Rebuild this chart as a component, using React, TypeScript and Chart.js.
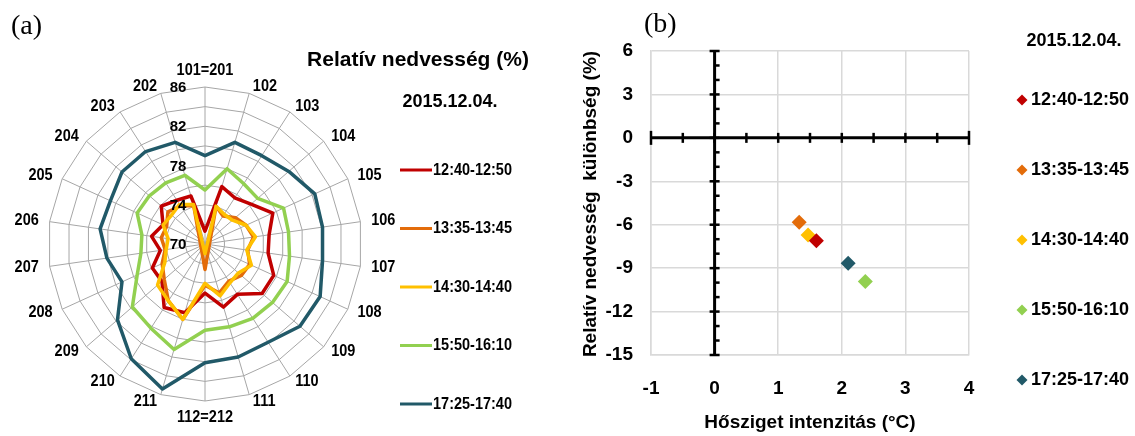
import React, { useEffect, useRef } from 'react';
import { Chart, registerables } from 'chart.js';

Chart.register(...registerables);

// ---------- DATA ----------
const spokeLabels = [
  '101=201', '102', '103', '104', '105', '106', '107', '108', '109', '110', '111',
  '112=212', '211', '210', '209', '208', '207', '206', '205', '204', '203', '202',
];
const seriesNames = ['12:40-12:50', '13:35-13:45', '14:30-14:40', '15:50-16:10', '17:25-17:40'];
const seriesColors = ['#C00000', '#E36C0A', '#FFC000', '#92D050', '#215968'];

const rh1240 = [71.3, 76.1, 75.6, 76.2, 77.6, 76.6, 76.5, 77.7, 77.7, 76.1, 76.7, 75.0, 77.3, 77.7, 75.8, 75.9, 74.6, 75.5, 74.7, 75.9, 75.3, 75.1];
const rh1335 = [67.4, 74.0, 73.4, 74.1, 74.6, 75.0, 74.4, 75.0, 74.9, 74.5, 75.2, 74.2, 78.0, 76.9, 75.5, 74.8, 74.1, 74.5, 74.3, 75.0, 74.6, 74.1];
const rh1430 = [69.0, 74.0, 73.6, 73.7, 74.6, 75.2, 74.3, 75.2, 74.5, 74.7, 75.5, 74.0, 78.0, 76.9, 76.4, 74.5, 74.0, 73.8, 74.7, 74.5, 74.8, 74.2];
const rh1550 = [75.5, 78.0, 77.3, 77.1, 78.8, 78.6, 78.7, 79.2, 79.1, 79.0, 78.8, 78.8, 81.2, 80.2, 79.8, 77.6, 76.6, 76.5, 77.6, 77.5, 77.4, 77.3];
const rh1725 = [79.0, 80.8, 80.7, 81.3, 82.3, 82.1, 82.1, 82.9, 82.8, 81.9, 82.0, 82.1, 85.4, 83.9, 81.8, 79.3, 80.1, 80.8, 80.6, 81.2, 81.2, 80.8];
const radarSeries = [rh1240, rh1335, rh1430, rh1550, rh1725];
const radarTickLabels = [70, 74, 78, 82, 86];

const heatIsland = [1.60, 1.33, 1.47, 2.37, 2.10];
const rhDifference = [-7.10, -5.83, -6.71, -9.93, -8.66];

const dateLabel = '2015.12.04.';
const radarTitle = 'Relatív nedvesség (%)';
const scatterXTitle = 'Hősziget intenzitás (°C)';
const scatterYTitle = 'Relatív nedvesség  különbség (%)';

const SANS = '"Liberation Sans", Arial, sans-serif';
const SERIF = '"Liberation Serif", "Times New Roman", serif';

function tallText(ctx: CanvasRenderingContext2D, text: string, x: number, y: number, sy: number) {
  ctx.save();
  ctx.translate(x, y);
  ctx.scale(1, sy);
  ctx.fillText(text, 0, 0);
  ctx.restore();
}

// ---------- RADAR PANEL ----------
const radarDecor = {
  id: 'radarDecor',
  afterDraw(chart: any) {
    const ctx = chart.ctx as CanvasRenderingContext2D;
    const s = chart.scales.r;
    const R = s.drawingArea;
    const cx = s.xCenter;
    const cy = s.yCenter;
    ctx.save();
    ctx.fillStyle = '#000';
    ctx.textBaseline = 'middle';

    // tick labels (left of the top spoke)
    ctx.font = `bold 15px ${SANS}`;
    ctx.textAlign = 'center';
    radarTickLabels.forEach((v) => {
      const d = s.getDistanceFromCenterForValue(v);
      ctx.fillText(String(v), cx - 27, cy - d + 1);
    });

    // category labels
    ctx.font = `bold 14.5px ${SANS}`;
    (chart.data.labels as string[]).forEach((lab, i) => {
      const a = s.getIndexAngle(i);
      const sn = Math.sin(a);
      const cs = Math.cos(a);
      if (Math.abs(sn) < 0.01) {
        ctx.textAlign = 'center';
        const y = cs > 0 ? cy - R - 16 : cy + R + 17;
        tallText(ctx, lab, cx, y, 1.12);
        return;
      }
      const y = cy - (R + 7) * cs;
      const gap = 3 + 8 * sn * sn;
      if (sn > 0) {
        ctx.textAlign = 'left';
        tallText(ctx, lab, cx + R * sn + gap, y, 1.12);
      } else {
        ctx.textAlign = 'right';
        tallText(ctx, lab, cx + R * sn - gap, y, 1.12);
      }
    });

    // title and date
    ctx.textAlign = 'center';
    ctx.font = `bold 21px ${SANS}`;
    ctx.fillText(radarTitle, 418, 60);
    ctx.font = `bold 18px ${SANS}`;
    ctx.fillText(dateLabel, 450, 102);

    // legend
    ctx.font = `bold 14.5px ${SANS}`;
    ctx.textAlign = 'left';
    seriesNames.forEach((n, i) => {
      const y = 170 + i * 58.5;
      ctx.strokeStyle = seriesColors[i];
      ctx.lineWidth = 3;
      ctx.beginPath();
      ctx.moveTo(400, y);
      ctx.lineTo(432, y);
      ctx.stroke();
      tallText(ctx, n, 433, y, 1.2);
    });

    // panel letter
    ctx.font = `28px ${SERIF}`;
    ctx.fillText('(a)', 11, 27);
    ctx.restore();
  },
};

function RadarPanel() {
  const ref = useRef<HTMLCanvasElement>(null);
  useEffect(() => {
    const chart = new Chart(ref.current as HTMLCanvasElement, {
      type: 'radar',
      data: {
        labels: spokeLabels,
        datasets: radarSeries.map((d, i) => ({
          label: seriesNames[i],
          data: d,
          borderColor: seriesColors[i],
          backgroundColor: seriesColors[i],
          borderWidth: 3.5,
          borderJoinStyle: 'round',
          pointRadius: 0,
          fill: false,
          tension: 0,
          order: 4 - i,
        })),
      } as any,
      options: {
        responsive: false,
        animation: false,
        layout: { padding: { left: 48, top: 87, right: 208, bottom: 35 } },
        plugins: { legend: { display: false }, tooltip: { enabled: false } },
        scales: {
          r: {
            min: 70,
            max: 86,
            ticks: { display: false, stepSize: 2 },
            pointLabels: { display: false },
            grid: { color: '#a6a6a6', lineWidth: 1 },
            angleLines: { color: '#a6a6a6', lineWidth: 1 },
          },
        },
      } as any,
      plugins: [radarDecor],
    });
    return () => chart.destroy();
  }, []);
  return <canvas ref={ref} width={570} height={436} style={{ position: 'absolute', left: 0, top: 0 }} />;
}

// ---------- SCATTER PANEL ----------
function diamond(ctx: CanvasRenderingContext2D, x: number, y: number, r: number) {
  ctx.beginPath();
  ctx.moveTo(x, y - r);
  ctx.lineTo(x + r, y);
  ctx.lineTo(x, y + r);
  ctx.lineTo(x - r, y);
  ctx.closePath();
  ctx.fill();
}

const scatterDecor = {
  id: 'scatterDecor',
  beforeDatasetsDraw(chart: any) {
    const ctx = chart.ctx as CanvasRenderingContext2D;
    const xs = chart.scales.x;
    const ys = chart.scales.y;
    const x0 = xs.getPixelForValue(0);
    const y0 = ys.getPixelForValue(0);
    ctx.save();
    ctx.strokeStyle = '#000';
    ctx.lineWidth = 3;
    const line = (a: number, b: number, c: number, d: number) => {
      ctx.beginPath();
      ctx.moveTo(a, b);
      ctx.lineTo(c, d);
      ctx.stroke();
    };
    line(xs.left, y0, xs.right, y0);
    line(x0, ys.top, x0, ys.bottom);
    ctx.lineWidth = 2.5;
    for (let k = 0; k <= 10; k++) {
      const v = xs.min + k * 0.5;
      const px = xs.getPixelForValue(v);
      const half = k === 0 || k === 10 ? 7 : 5;
      line(px, y0 - half, px, y0 + half);
    }
    for (let v = ys.min; v <= ys.max; v++) {
      const py = ys.getPixelForValue(v);
      if (v % 3 === 0) line(x0 - 5, py, x0 + 5, py);
      else line(x0, py, x0 + 5, py);
    }
    ctx.restore();
  },
  afterDraw(chart: any) {
    const ctx = chart.ctx as CanvasRenderingContext2D;
    const xs = chart.scales.x;
    const ys = chart.scales.y;
    ctx.save();
    ctx.fillStyle = '#000';
    ctx.textBaseline = 'middle';
    ctx.textAlign = 'center';
    ctx.font = `bold 19px ${SANS}`;
    ctx.fillText(scatterXTitle, (xs.left + xs.right) / 2, 423);
    ctx.save();
    ctx.translate(21, (ys.top + ys.bottom) / 2 + 1);
    ctx.rotate(-Math.PI / 2);
    ctx.fillText(scatterYTitle, 0, 0);
    ctx.restore();

    ctx.font = `bold 18px ${SANS}`;
    ctx.fillText(dateLabel, 504, 41);
    ctx.textAlign = 'left';
    seriesNames.forEach((n, i) => {
      const y = 100 + i * 70;
      ctx.fillStyle = seriesColors[i];
      diamond(ctx, 452, y, 5.5);
      ctx.fillStyle = '#000';
      ctx.fillText(n, 461, y);
    });

    ctx.font = `28px ${SERIF}`;
    ctx.fillText('(b)', 74, 25);
    ctx.restore();
  },
};

function ScatterPanel() {
  const ref = useRef<HTMLCanvasElement>(null);
  useEffect(() => {
    const tickFont = { family: SANS, size: 19, weight: 'bold' };
    const chart = new Chart(ref.current as HTMLCanvasElement, {
      type: 'scatter',
      data: {
        datasets: seriesNames.map((n, i) => ({
          label: n,
          data: [{ x: heatIsland[i], y: rhDifference[i] }],
          pointStyle: 'rectRot',
          pointRadius: 7.5,
          backgroundColor: seriesColors[i],
          borderColor: seriesColors[i],
          borderWidth: 0,
        })),
      } as any,
      options: {
        responsive: false,
        animation: false,
        layout: { padding: { left: 0, top: 51, right: 166, bottom: 0 } },
        plugins: { legend: { display: false }, tooltip: { enabled: false } },
        scales: {
          x: {
            type: 'linear',
            min: -1,
            max: 4,
            ticks: { stepSize: 1, font: tickFont, color: '#000', padding: 22 },
            grid: { color: '#d9d9d9', lineWidth: 1.5, drawTicks: false },
            border: { display: true, color: '#d9d9d9', width: 1.5 },
            afterFit: (s: any) => { s.height = 81; },
          },
          y: {
            type: 'linear',
            min: -15,
            max: 6,
            ticks: { stepSize: 3, font: tickFont, color: '#000', padding: 18 },
            grid: { color: '#d9d9d9', lineWidth: 1.5, drawTicks: false },
            border: { display: true, color: '#d9d9d9', width: 1.5 },
            afterFit: (s: any) => { s.width = 81; },
          },
        },
      } as any,
      plugins: [scatterDecor],
    });
    return () => chart.destroy();
  }, []);
  return <canvas ref={ref} width={565} height={436} style={{ position: 'absolute', left: 570, top: 0 }} />;
}

export default function App() {
  return (
    <div style={{ position: 'absolute', left: 0, top: 0, width: 1135, height: 436, background: '#fff', overflow: 'hidden' }}>
      <RadarPanel />
      <ScatterPanel />
    </div>
  );
}
